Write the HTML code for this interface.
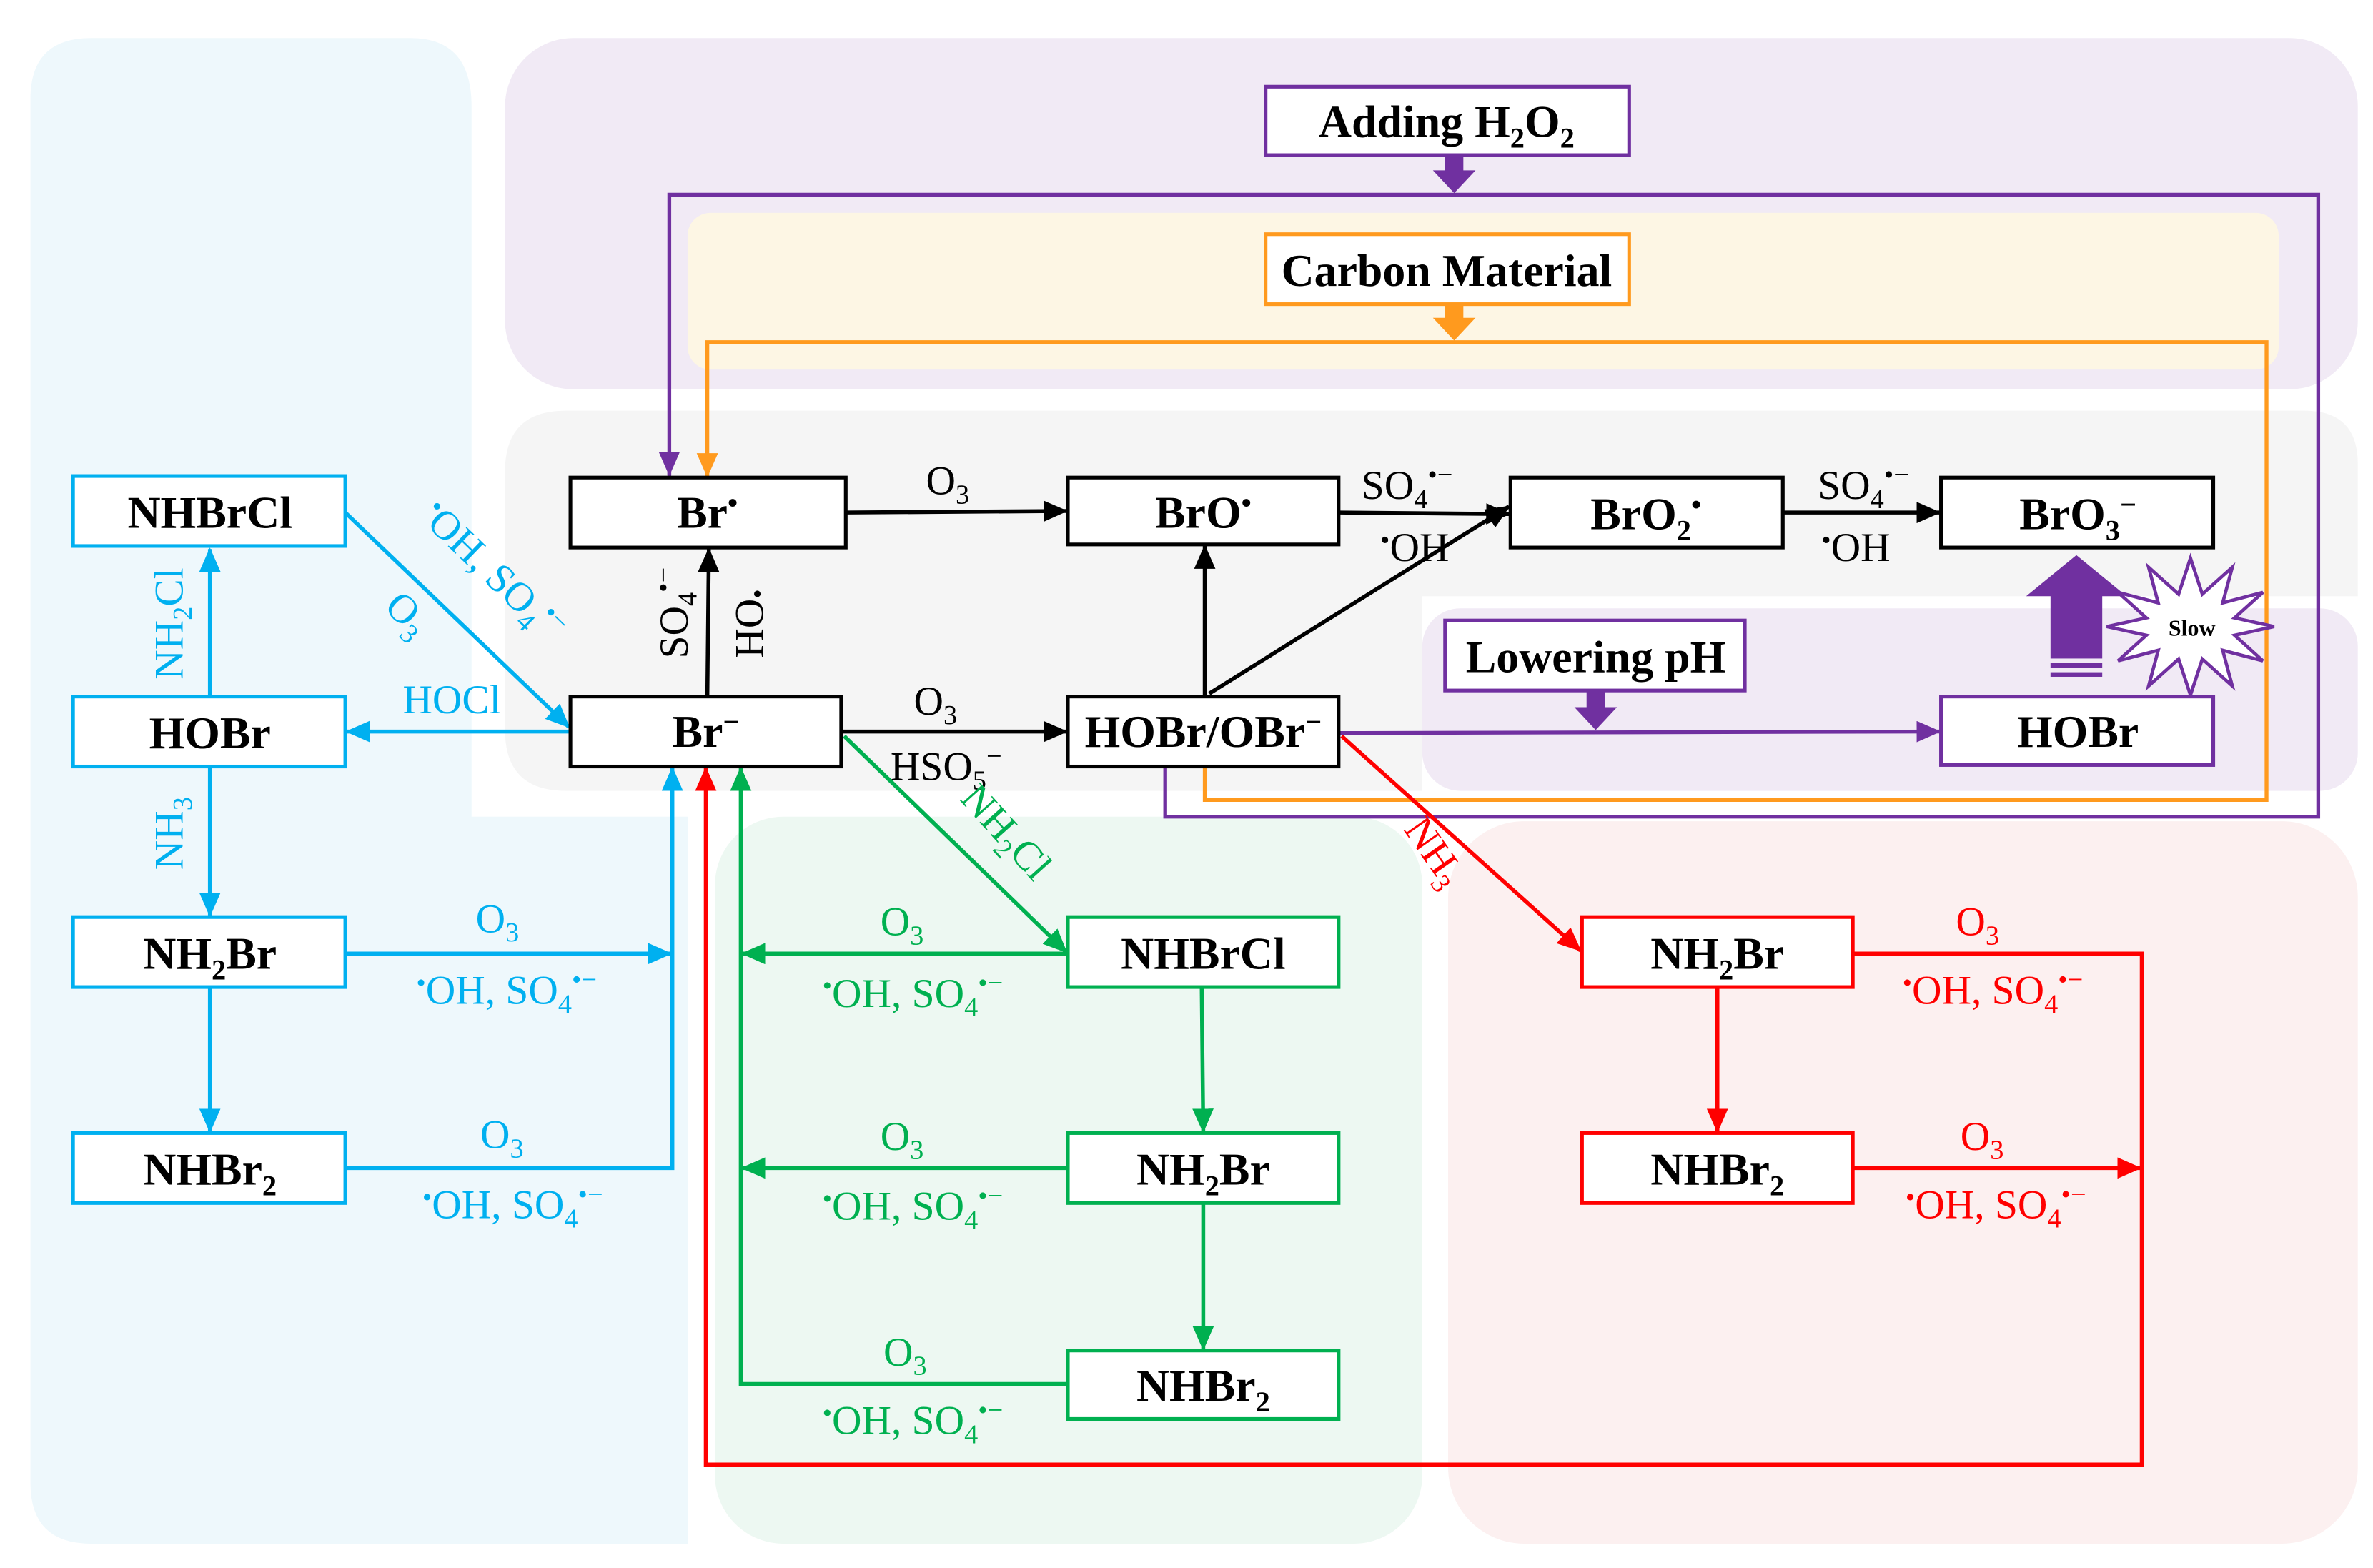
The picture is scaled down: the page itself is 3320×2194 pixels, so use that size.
<!DOCTYPE html>
<html><head><meta charset="utf-8"><style>
html,body{margin:0;padding:0;background:#fff;}
svg{display:block;}
text{font-family:"Liberation Serif",serif;}
.b{font-weight:bold;font-size:30px;text-anchor:middle;}
.l{font-size:27px;text-anchor:middle;}
</style></head><body>
<svg width="3320" height="2194" viewBox="0 0 1560 1031" preserveAspectRatio="none" xmlns="http://www.w3.org/2000/svg">
<defs>
<marker id="mk" markerUnits="userSpaceOnUse" markerWidth="16" markerHeight="14" refX="15" refY="7" orient="auto"><path d="M0,0 L16,7 L0,14 Z" fill="#000"/></marker>
<marker id="mb" markerUnits="userSpaceOnUse" markerWidth="16" markerHeight="14" refX="15" refY="7" orient="auto"><path d="M0,0 L16,7 L0,14 Z" fill="#00b0f0"/></marker>
<marker id="mg" markerUnits="userSpaceOnUse" markerWidth="16" markerHeight="14" refX="15" refY="7" orient="auto"><path d="M0,0 L16,7 L0,14 Z" fill="#00b050"/></marker>
<marker id="mr" markerUnits="userSpaceOnUse" markerWidth="16" markerHeight="14" refX="15" refY="7" orient="auto"><path d="M0,0 L16,7 L0,14 Z" fill="#ff0000"/></marker>
<marker id="mp" markerUnits="userSpaceOnUse" markerWidth="16" markerHeight="14" refX="15" refY="7" orient="auto"><path d="M0,0 L16,7 L0,14 Z" fill="#7030a0"/></marker>
<marker id="mo" markerUnits="userSpaceOnUse" markerWidth="16" markerHeight="14" refX="15" refY="7" orient="auto"><path d="M0,0 L16,7 L0,14 Z" fill="#ff9a1e"/></marker>
</defs>
<rect width="1560" height="1031" fill="#fff"/>
<path d="M60,25 H270 Q310,25 310,70 V537 H452 V1015 H60 Q20,1015 20,975 V65 Q20,25 60,25 Z" fill="#eef8fc"/>
<rect x="470" y="537" width="465" height="478" rx="45" fill="#edf8f2"/>
<rect x="952" y="540" width="598" height="475" rx="50" fill="#fcf0f0"/>
<rect x="332" y="25" width="1218" height="231" rx="45" fill="#f1eaf5"/>
<rect x="452" y="140" width="1046" height="103" rx="15" fill="#fdf6e4"/>
<path d="M372,270 H1515 Q1550,270 1550,305 V392 H935 V520 H372 Q332,520 332,480 V310 Q332,270 372,270 Z" fill="#f5f5f5"/>
<rect x="935" y="400" width="615" height="120" rx="25" fill="#f1eaf5"/>

<polyline points="440,314 440,128 1524,128 1524,537 766,537 766,504" fill="none" stroke="#7030a0" stroke-width="2.5"/>
<path d="M440,298 L440,312" stroke="#7030a0" stroke-width="2.5" marker-end="url(#mp)"/>
<polyline points="465,300 465,225 1490,225 1490,526 792,526 792,504" fill="none" stroke="#ff9a1e" stroke-width="2.5"/>
<path d="M465,298 L465,313" stroke="#ff9a1e" stroke-width="2.5" marker-end="url(#mo)"/>

<rect x="950" y="102" width="12" height="12" fill="#7030a0"/><polygon points="942,112 970,112 956,127" fill="#7030a0"/>
<rect x="950" y="200" width="12" height="11" fill="#ff9a1e"/><polygon points="942,209 970,209 956,224" fill="#ff9a1e"/>
<rect x="1043" y="454" width="12" height="13" fill="#7030a0"/><polygon points="1035,465 1063,465 1049,480" fill="#7030a0"/>

<g stroke="#000" stroke-width="2.6" fill="none">
<path d="M556,337 L701,336" marker-end="url(#mk)"/>
<path d="M880,337 L992,338" marker-end="url(#mk)"/>
<path d="M1172,337 L1275,337" marker-end="url(#mk)"/>
<path d="M465,458 L466,361" marker-end="url(#mk)"/>
<path d="M553,481 L701,481" marker-end="url(#mk)"/>
<path d="M792,458 L792,359" marker-end="url(#mk)"/>
<path d="M795,456 L992,333" marker-end="url(#mk)"/>
</g>
<path d="M880,482 L1275,481" stroke="#7030a0" stroke-width="2.5" marker-end="url(#mp)"/>
<rect x="1348" y="388" width="34" height="45" fill="#7030a0"/>
<polygon points="1332,392 1365,365 1398,392" fill="#7030a0"/>
<rect x="1348" y="436" width="34" height="3" fill="#7030a0"/><rect x="1348" y="442" width="34" height="3" fill="#7030a0"/>
<polygon points="1495,412 1469,417.7 1487.6,434.5 1461.2,427.6 1467.5,451 1447.8,433.3 1440,457 1432.2,433.3 1412.5,451 1418.8,427.6 1392.4,434.5 1411,417.7 1385,412 1411,406.3 1392.4,389.5 1418.8,396.4 1412.5,373 1432.2,390.7 1440,367 1447.8,390.7 1467.5,373 1461.2,396.4 1487.6,389.5 1469,406.3" fill="#fff" stroke="#7030a0" stroke-width="2.2"/>
<text x="1441" y="418" style="font-weight:bold;font-size:15px;text-anchor:middle">Slow</text>

<g stroke="#00b0f0" stroke-width="2.6" fill="none">
<path d="M227,337 L374,478" marker-end="url(#mb)"/>
<path d="M138,458 L138,361" marker-end="url(#mb)"/>
<path d="M375,481 L228,481" marker-end="url(#mb)"/>
<path d="M138,504 L138,602" marker-end="url(#mb)"/>
<path d="M138,649 L138,744" marker-end="url(#mb)"/>
<path d="M227,627 L441,627" marker-end="url(#mb)"/>
<polyline points="227,768 442,768 442,505" marker-end="url(#mb)"/>
</g>
<g stroke="#00b050" stroke-width="2.6" fill="none">
<path d="M555,484 L701,626" marker-end="url(#mg)"/>
<polyline points="702,910 487,910 487,505" marker-end="url(#mg)"/>
<path d="M702,627 L488,627" marker-end="url(#mg)"/>
<path d="M702,768 L488,768" marker-end="url(#mg)"/>
<path d="M790,649 L791,744" marker-end="url(#mg)"/>
<path d="M791,791 L791,887" marker-end="url(#mg)"/>
</g>
<g stroke="#ff0000" stroke-width="2.6" fill="none">
<path d="M882,484 L1039,625" marker-end="url(#mr)"/>
<path d="M1129,649 L1129,744" marker-end="url(#mr)"/>
<polyline points="1218,627 1408,627 1408,963 464,963 464,505" marker-end="url(#mr)"/>
<path d="M1218,768 L1407,768" marker-end="url(#mr)"/>
</g>

<g fill="#fff" stroke-width="2.4">
<rect x="375" y="314" width="181" height="46" stroke="#000"/>
<rect x="702" y="314" width="178" height="44" stroke="#000"/>
<rect x="993" y="314" width="179" height="46" stroke="#000"/>
<rect x="1276" y="314" width="179" height="46" stroke="#000"/>
<rect x="375" y="458" width="178" height="46" stroke="#000"/>
<rect x="702" y="458" width="178" height="46" stroke="#000"/>
<rect x="1276" y="458" width="179" height="45" stroke="#7030a0"/>
<rect x="832" y="57" width="239" height="45" stroke="#7030a0"/>
<rect x="950" y="408" width="197" height="46" stroke="#7030a0"/>
<rect x="832" y="154" width="239" height="46" stroke="#ff9a1e"/>
<rect x="48" y="313" width="179" height="46" stroke="#00b0f0"/>
<rect x="48" y="458" width="179" height="46" stroke="#00b0f0"/>
<rect x="48" y="603" width="179" height="46" stroke="#00b0f0"/>
<rect x="48" y="745" width="179" height="46" stroke="#00b0f0"/>
<rect x="702" y="603" width="178" height="46" stroke="#00b050"/>
<rect x="702" y="745" width="178" height="46" stroke="#00b050"/>
<rect x="702" y="888" width="178" height="45" stroke="#00b050"/>
<rect x="1040" y="603" width="178" height="46" stroke="#ff0000"/>
<rect x="1040" y="745" width="178" height="46" stroke="#ff0000"/>
</g>

<text class="b" x="465" y="347">Br<tspan font-size="19" dy="-10">•</tspan></text>
<text class="b" x="791" y="347">BrO<tspan font-size="19" dy="-10">•</tspan></text>
<text class="b" x="1082" y="348">BrO<tspan font-size="19" dy="7">2</tspan><tspan font-size="19" dy="-17">•</tspan></text>
<text class="b" x="1366" y="348">BrO<tspan font-size="19" dy="7">3</tspan><tspan font-size="19" dy="-17">−</tspan></text>
<text class="b" x="464" y="491">Br<tspan font-size="19" dy="-10">−</tspan></text>
<text class="b" x="791" y="491">HOBr/OBr<tspan font-size="19" dy="-10">−</tspan></text>
<text class="b" x="1366" y="491">HOBr</text>
<text class="b" x="951" y="90">Adding H<tspan font-size="19" dy="7">2</tspan><tspan dy="-7">O</tspan><tspan font-size="19" dy="7">2</tspan></text>
<text class="b" x="1049" y="442">Lowering pH</text>
<text class="b" x="951" y="188">Carbon Material</text>
<text class="b" x="138" y="347">NHBrCl</text>
<text class="b" x="138" y="492">HOBr</text>
<text class="b" x="138" y="637">NH<tspan font-size="19" dy="7">2</tspan><tspan dy="-7">Br</tspan></text>
<text class="b" x="138" y="779">NHBr<tspan font-size="19" dy="7">2</tspan></text>
<text class="b" x="791" y="637">NHBrCl</text>
<text class="b" x="791" y="779">NH<tspan font-size="19" dy="7">2</tspan><tspan dy="-7">Br</tspan></text>
<text class="b" x="791" y="921">NHBr<tspan font-size="19" dy="7">2</tspan></text>
<text class="b" x="1129" y="637">NH<tspan font-size="19" dy="7">2</tspan><tspan dy="-7">Br</tspan></text>
<text class="b" x="1129" y="779">NHBr<tspan font-size="19" dy="7">2</tspan></text>

<g fill="#000">
<text class="l" x="623" y="325">O<tspan font-size="18" dy="6">3</tspan></text>
<text class="l" x="925" y="328">SO<tspan font-size="18" dy="6">4</tspan><tspan font-size="18" dy="-16">•−</tspan></text>
<text class="l" x="930" y="369"><tspan font-size="18" dy="-8">•</tspan><tspan dy="8">OH</tspan></text>
<text class="l" x="1225" y="328">SO<tspan font-size="18" dy="6">4</tspan><tspan font-size="18" dy="-16">•−</tspan></text>
<text class="l" x="1220" y="369"><tspan font-size="18" dy="-8">•</tspan><tspan dy="8">OH</tspan></text>
<text class="l" x="615" y="470">O<tspan font-size="18" dy="6">3</tspan></text>
<text class="l" x="622" y="513">HSO<tspan font-size="18" dy="6">5</tspan><tspan font-size="18" dy="-16">−</tspan></text>
<text class="l" transform="translate(452,403) rotate(-90)">SO<tspan font-size="18" dy="6">4</tspan><tspan font-size="18" dy="-16">•−</tspan></text>
<text class="l" transform="translate(484,410) rotate(90)"><tspan font-size="18" dy="-8">•</tspan><tspan dy="8">OH</tspan></text>
</g>

<text class="l" fill="#00b0f0" transform="translate(318,382) rotate(44)"><tspan font-size="18" dy="-8">•</tspan><tspan dy="8">OH, SO</tspan><tspan font-size="18" dy="6">4</tspan><tspan font-size="18" dy="-16">•−</tspan></text>
<text class="l" fill="#00b0f0" transform="translate(262,410) rotate(44)">O<tspan font-size="18" dy="6">3</tspan></text>
<text class="l" fill="#00b0f0" x="297" y="469">HOCl</text>
<text class="l" fill="#00b0f0" transform="translate(120,410) rotate(-90)">NH<tspan font-size="18" dy="6">2</tspan><tspan dy="-6">Cl</tspan></text>
<text class="l" fill="#00b0f0" transform="translate(120,548) rotate(-90)">NH<tspan font-size="18" dy="6">3</tspan></text>
<text class="l" fill="#00b0f0" x="327" y="613">O<tspan font-size="18" dy="6">3</tspan></text>
<text class="l" fill="#00b0f0" x="333" y="660"><tspan font-size="18" dy="-8">•</tspan><tspan dy="8">OH, SO</tspan><tspan font-size="18" dy="6">4</tspan><tspan font-size="18" dy="-16">•−</tspan></text>
<text class="l" fill="#00b0f0" x="330" y="755">O<tspan font-size="18" dy="6">3</tspan></text>
<text class="l" fill="#00b0f0" x="337" y="801"><tspan font-size="18" dy="-8">•</tspan><tspan dy="8">OH, SO</tspan><tspan font-size="18" dy="6">4</tspan><tspan font-size="18" dy="-16">•−</tspan></text>

<text class="l" fill="#00b050" transform="translate(655,553) rotate(48)">NH<tspan font-size="18" dy="6">2</tspan><tspan dy="-6">Cl</tspan></text>
<text class="l" fill="#00b050" x="593" y="615">O<tspan font-size="18" dy="6">3</tspan></text>
<text class="l" fill="#00b050" x="600" y="662"><tspan font-size="18" dy="-8">•</tspan><tspan dy="8">OH, SO</tspan><tspan font-size="18" dy="6">4</tspan><tspan font-size="18" dy="-16">•−</tspan></text>
<text class="l" fill="#00b050" x="593" y="756">O<tspan font-size="18" dy="6">3</tspan></text>
<text class="l" fill="#00b050" x="600" y="802"><tspan font-size="18" dy="-8">•</tspan><tspan dy="8">OH, SO</tspan><tspan font-size="18" dy="6">4</tspan><tspan font-size="18" dy="-16">•−</tspan></text>
<text class="l" fill="#00b050" x="595" y="898">O<tspan font-size="18" dy="6">3</tspan></text>
<text class="l" fill="#00b050" x="600" y="943"><tspan font-size="18" dy="-8">•</tspan><tspan dy="8">OH, SO</tspan><tspan font-size="18" dy="6">4</tspan><tspan font-size="18" dy="-16">•−</tspan></text>

<text class="l" fill="#ff0000" transform="translate(936,565) rotate(55)">NH<tspan font-size="18" dy="6">3</tspan></text>
<text class="l" fill="#ff0000" x="1300" y="615">O<tspan font-size="18" dy="6">3</tspan></text>
<text class="l" fill="#ff0000" x="1310" y="660"><tspan font-size="18" dy="-8">•</tspan><tspan dy="8">OH, SO</tspan><tspan font-size="18" dy="6">4</tspan><tspan font-size="18" dy="-16">•−</tspan></text>
<text class="l" fill="#ff0000" x="1303" y="756">O<tspan font-size="18" dy="6">3</tspan></text>
<text class="l" fill="#ff0000" x="1312" y="801"><tspan font-size="18" dy="-8">•</tspan><tspan dy="8">OH, SO</tspan><tspan font-size="18" dy="6">4</tspan><tspan font-size="18" dy="-16">•−</tspan></text>
</svg>
</body></html>
